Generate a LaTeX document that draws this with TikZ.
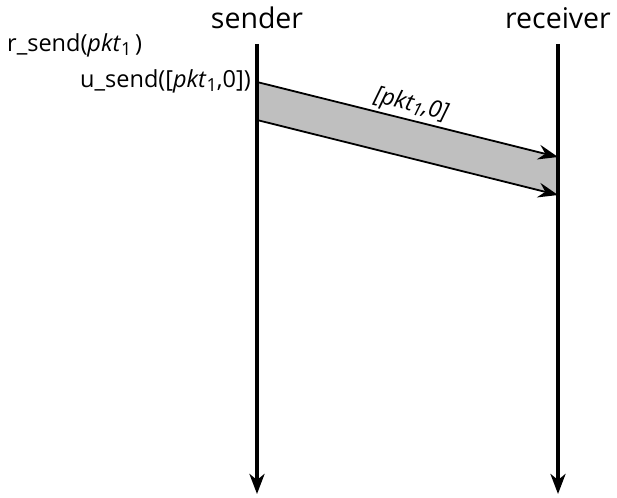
\documentclass[tikz,border=0pt]{standalone}
\usepackage{fontspec}
\setmainfont{Open Sans}
\usetikzlibrary{arrows.meta}
\newcommand{\mysub}[1]{\raisebox{-0.28ex}{\fontsize{18}{20}\selectfont #1}}
\begin{document}
\begin{tikzpicture}[x=1pt,y=-1pt,
  lifeline/.style={line width=4.5pt,-{Stealth[length=20pt,width=15pt,inset=6pt]}},
  msg/.style={line width=1.8pt,-{Stealth[length=20pt,width=15pt,inset=7pt]}},
  title/.style={font=\fontsize{28.5}{32}\selectfont},
  lbl/.style={font=\fontsize{23.5}{27}\selectfont}]
\useasboundingbox (0,0) rectangle (617,497);
\node[title,anchor=base] (snd) at (257,29) {sender};
\node[title,anchor=base] (rcv) at (558,29) {receiver};
\coordinate (s0) at (257,44);
\coordinate (s1) at (257,494);
\coordinate (r0) at (558,44);
\coordinate (r1) at (558,494);
\coordinate (a0) at (257,82);
\coordinate (a1) at (558,157);
\coordinate (b0) at (257,120);
\coordinate (b1) at (558,195);
\fill[black!25] (a0) -- (a1) -- (b1) -- (b0) -- cycle;
\draw[msg] (a0) -- (a1);
\draw[msg] (b0) -- (b1);
\draw[lifeline] (s0) -- (s1);
\draw[lifeline] (r0) -- (r1);
\node[lbl,anchor=base west,inner sep=0pt] (rs) at (7,52) {r\_send(\textit{pkt}\mysub{1}\,)};
\node[lbl,anchor=base east,inner sep=0pt] (us) at (251,88) {u\_send([\textit{pkt}\mysub{1},0])};
\path (a0) -- (a1) node[pos=0.5,sloped,above,inner sep=3pt,lbl,font=\fontsize{23.5}{27}\selectfont\itshape] (lab) {[pkt\mysub{1},0]};
\end{tikzpicture}
\end{document}
